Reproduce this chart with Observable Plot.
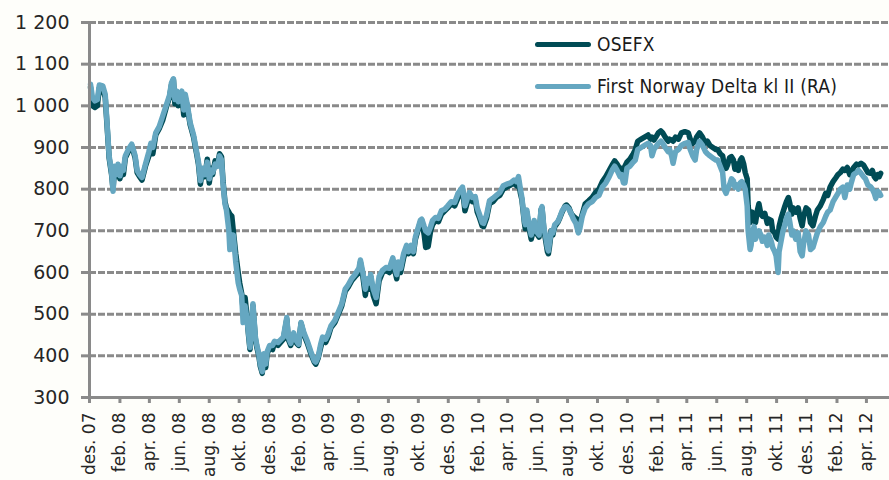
<!DOCTYPE html>
<html>
<head>
<meta charset="utf-8">
<script src="https://cdn.jsdelivr.net/npm/d3@7"></script>
<script src="https://cdn.jsdelivr.net/npm/@observablehq/plot@0.6"></script>
<style>
  html, body { margin: 0; padding: 0; background: #fefefa; }
  #wrap { position: relative; width: 889px; height: 480px; overflow: hidden; }
  #legend { position: absolute; left: 535px; top: 30px; font-family: "DejaVu Sans Condensed", "Liberation Sans Narrow", "DejaVu Sans", sans-serif; font-stretch: condensed; font-size: 19px; color: #1a1a1a; letter-spacing: 0.2px; }
  .item { display: flex; align-items: center; height: 28px; margin-bottom: 14px; }
  .sw { width: 56px; height: 5px; border-radius: 3px; margin-right: 6px; }
</style>
</head>
<body>
<div id="wrap">
  <div id="legend"></div>
</div>
<script>
const seriesNames = ["OSEFX", "First Norway Delta kl II (RA)"];
const seriesColors = ["#004b55", "#65a7c1"];

const dates = [
"2007-12-03","2007-12-07","2007-12-12","2007-12-17","2007-12-21","2007-12-28","2008-01-02","2008-01-07","2008-01-10","2008-01-15",
"2008-01-18","2008-01-21","2008-01-24","2008-01-28","2008-02-01","2008-02-05","2008-02-08","2008-02-12","2008-02-18","2008-02-25",
"2008-03-03","2008-03-07","2008-03-12","2008-03-17","2008-03-24","2008-03-31","2008-04-04","2008-04-08","2008-04-14","2008-04-21",
"2008-04-28","2008-05-05","2008-05-12","2008-05-16","2008-05-20","2008-05-23","2008-05-27","2008-05-30","2008-06-03","2008-06-06",
"2008-06-10","2008-06-13","2008-06-17","2008-06-23","2008-06-30","2008-07-07","2008-07-10","2008-07-14","2008-07-18","2008-07-23",
"2008-07-28","2008-08-01","2008-08-05","2008-08-08","2008-08-13","2008-08-18","2008-08-22","2008-08-26","2008-08-29","2008-09-02",
"2008-09-05","2008-09-10","2008-09-12","2008-09-16","2008-09-19","2008-09-24","2008-09-29","2008-10-02","2008-10-06","2008-10-09",
"2008-10-13","2008-10-16","2008-10-20","2008-10-23","2008-10-27","2008-10-29","2008-11-03","2008-11-06","2008-11-10","2008-11-13",
"2008-11-17","2008-11-20","2008-11-24","2008-11-27","2008-12-02","2008-12-08","2008-12-12","2008-12-19","2008-12-30","2009-01-06",
"2009-01-09","2009-01-14","2009-01-20","2009-01-26","2009-01-30","2009-02-04","2009-02-10","2009-02-17","2009-02-24","2009-03-03",
"2009-03-06","2009-03-11","2009-03-16","2009-03-20","2009-03-26","2009-03-31","2009-04-06","2009-04-14","2009-04-21","2009-04-28",
"2009-05-05","2009-05-11","2009-05-18","2009-05-25","2009-06-02","2009-06-05","2009-06-10","2009-06-15","2009-06-19","2009-06-23",
"2009-06-26","2009-07-01","2009-07-07","2009-07-13","2009-07-20","2009-07-27","2009-08-03","2009-08-10","2009-08-14","2009-08-18",
"2009-08-21","2009-08-26","2009-09-01","2009-09-07","2009-09-11","2009-09-16","2009-09-21","2009-09-25","2009-09-30","2009-10-05",
"2009-10-08","2009-10-13","2009-10-16","2009-10-21","2009-10-26","2009-10-30","2009-11-05","2009-11-11","2009-11-17","2009-11-24",
"2009-11-30","2009-12-07","2009-12-14","2009-12-21","2009-12-30","2010-01-04","2010-01-08","2010-01-13","2010-01-19","2010-01-25",
"2010-01-29","2010-02-03","2010-02-08","2010-02-11","2010-02-17","2010-02-23","2010-03-02","2010-03-09","2010-03-16","2010-03-23",
"2010-03-30","2010-04-07","2010-04-14","2010-04-19","2010-04-23","2010-04-27","2010-04-30","2010-05-05","2010-05-07","2010-05-10",
"2010-05-14","2010-05-19","2010-05-21","2010-05-25","2010-05-28","2010-06-01","2010-06-04","2010-06-08","2010-06-10","2010-06-14",
"2010-06-17","2010-06-21","2010-06-23","2010-06-25","2010-06-29","2010-07-02","2010-07-06","2010-07-12","2010-07-16","2010-07-21",
"2010-07-27","2010-07-30","2010-08-04","2010-08-09","2010-08-13","2010-08-18","2010-08-23","2010-08-26","2010-08-31","2010-09-06",
"2010-09-13","2010-09-20","2010-09-27","2010-10-04","2010-10-11","2010-10-18","2010-10-25","2010-11-01","2010-11-05","2010-11-10",
"2010-11-16","2010-11-19","2010-11-23","2010-11-26","2010-11-30","2010-12-06","2010-12-13","2010-12-17","2010-12-22","2010-12-29",
"2011-01-05","2011-01-12","2011-01-17","2011-01-20","2011-01-24","2011-01-28","2011-02-02","2011-02-07","2011-02-11","2011-02-16",
"2011-02-22","2011-02-25","2011-03-01","2011-03-04","2011-03-09","2011-03-15","2011-03-21","2011-03-28","2011-04-04","2011-04-08",
"2011-04-13","2011-04-18","2011-04-21","2011-04-27","2011-05-03","2011-05-09","2011-05-13","2011-05-18","2011-05-24","2011-05-30",
"2011-06-03","2011-06-08","2011-06-13","2011-06-16","2011-06-20","2011-06-23","2011-06-27","2011-07-01","2011-07-05","2011-07-08",
"2011-07-12","2011-07-15","2011-07-19","2011-07-22","2011-07-26","2011-07-29","2011-08-02","2011-08-04","2011-08-08","2011-08-10",
"2011-08-12","2011-08-16","2011-08-19","2011-08-23","2011-08-26","2011-08-30","2011-09-02","2011-09-07","2011-09-12","2011-09-15",
"2011-09-20","2011-09-23","2011-09-27","2011-09-30","2011-10-04","2011-10-06","2011-10-10","2011-10-14","2011-10-18","2011-10-21",
"2011-10-25","2011-10-28","2011-11-01","2011-11-04","2011-11-09","2011-11-14","2011-11-18","2011-11-22","2011-11-25","2011-11-30",
"2011-12-05","2011-12-09","2011-12-14","2011-12-19","2011-12-23","2011-12-29","2012-01-04","2012-01-09","2012-01-13","2012-01-18",
"2012-01-24","2012-01-30","2012-02-03","2012-02-08","2012-02-13","2012-02-17","2012-02-22","2012-02-27","2012-03-01","2012-03-06",
"2012-03-12","2012-03-16","2012-03-21","2012-03-26","2012-03-30","2012-04-04","2012-04-10","2012-04-13","2012-04-17","2012-04-20",
"2012-04-24","2012-04-27","2012-04-30"
];

const osefx = [
1045,1000,996,1000,1043,1040,1020,930,875,835,
800,850,830,855,825,850,835,875,890,905,
875,840,830,822,855,880,905,885,930,945,
965,995,1020,1050,1063,1005,1030,1000,1025,1030,
978,1020,1000,955,925,880,860,812,845,830,
872,815,850,835,868,860,885,878,820,770,
755,745,740,735,700,645,600,575,550,510,
540,505,450,415,480,520,440,420,400,375,
358,400,372,405,420,415,432,425,440,488,
440,425,450,430,425,478,450,430,405,385,
380,395,420,438,432,445,468,480,500,520,
555,565,580,590,600,625,590,545,575,560,
590,545,525,580,600,605,600,625,605,585,
620,600,635,660,645,660,645,680,700,720,
725,690,660,662,700,715,725,722,740,748,
755,765,760,780,800,748,765,785,770,775,
745,730,712,710,730,765,770,780,785,800,
805,810,815,808,820,790,775,720,705,745,
710,680,690,720,705,690,685,750,755,700,
680,650,645,660,700,690,710,720,730,745,
760,762,755,740,735,730,725,720,740,765,
772,780,792,800,818,830,845,860,868,860,
848,850,845,855,865,872,885,895,915,920,
925,930,920,925,918,925,935,940,935,925,
915,920,918,915,925,920,935,938,935,920,
910,915,925,935,925,910,915,905,900,895,
895,885,880,860,850,858,875,878,870,848,
860,845,870,875,860,840,825,760,720,735,
745,740,720,750,765,740,735,742,718,728,
725,700,695,685,680,710,730,745,760,770,
780,765,740,755,745,755,730,712,735,755,
750,720,712,735,750,760,775,790,785,805,
818,828,835,840,848,845,852,835,840,852,
860,858,862,858,850,840,838,845,830,825,
835,830,838
];

const fnd = [
1052,1020,1012,1015,1050,1048,1028,935,880,840,
795,855,835,860,832,855,845,880,895,908,
880,845,835,828,860,890,910,900,935,950,
975,1000,1025,1055,1065,1015,1035,1010,1030,1035,
990,1028,1005,960,930,885,865,820,850,835,
865,825,845,840,860,855,880,870,815,765,
750,700,655,690,690,625,575,560,545,480,
520,495,455,420,490,525,445,425,405,380,
362,405,380,410,425,425,435,432,445,492,
445,430,455,435,428,480,455,435,410,388,
385,398,428,445,440,452,472,485,505,525,
560,570,585,595,610,630,600,560,585,575,
595,560,540,590,605,612,610,635,612,595,
625,610,645,665,650,665,650,685,705,725,
728,710,700,695,710,725,732,730,748,752,
760,770,768,790,805,760,775,792,780,782,
755,738,720,718,738,772,778,785,792,808,
812,815,822,818,830,800,780,725,715,750,
718,690,700,725,700,695,690,752,758,705,
690,660,652,670,700,695,715,722,732,748,
758,758,752,740,728,718,695,705,735,755,
765,770,780,785,805,815,830,848,855,845,
830,835,815,815,850,855,865,870,895,900,
905,910,905,880,895,902,910,915,910,900,
890,895,880,862,890,895,905,910,912,895,
880,870,895,915,905,890,885,880,875,870,
870,855,840,800,790,800,810,825,820,805,
810,800,815,818,810,800,760,700,655,665,
690,710,680,695,700,690,675,685,665,690,
675,660,650,640,600,650,675,700,715,730,
740,720,690,700,680,695,650,640,670,700,
690,655,660,680,695,710,720,735,745,750,
770,782,790,800,805,780,810,800,815,835,
840,845,838,830,825,810,805,800,790,778,
795,792,785
];

const xTickDates = [
"2007-12-01","2008-02-01","2008-04-01","2008-06-01","2008-08-01","2008-10-01","2008-12-01",
"2009-02-01","2009-04-01","2009-06-01","2009-08-01","2009-10-01","2009-12-01",
"2010-02-01","2010-04-01","2010-06-01","2010-08-01","2010-10-01","2010-12-01",
"2011-02-01","2011-04-01","2011-06-01","2011-08-01","2011-10-01","2011-12-01",
"2012-02-01","2012-04-01"
];
const xTickLabels = [
"des. 07","feb. 08","apr. 08","jun. 08","aug. 08","okt. 08","des. 08",
"feb. 09","apr. 09","jun. 09","aug. 09","okt. 09","des. 09",
"feb. 10","apr. 10","jun. 10","aug. 10","okt. 10","des. 10",
"feb. 11","apr. 11","jun. 11","aug. 11","okt. 11","des. 11",
"feb. 12","apr. 12"
];
const yTicks = [300,400,500,600,700,800,900,1000,1100,1200];
const yTickLabels = ["300","400","500","600","700","800","900","1 000","1 100","1 200"];

const parse = d3.utcParse("%Y-%m-%d");
const table = dates.map((d, i) => ({date: parse(d), osefx: osefx[i], fnd: fnd[i]}));
const xTicks = xTickDates.map(parse);
const xLabelMap = new Map(xTicks.map((d, i) => [+d, xTickLabels[i]]));
const yLabelMap = new Map(yTicks.map((v, i) => [v, yTickLabels[i]]));
const xDomain = [parse("2007-12-01"), parse("2012-05-18")];

const axisGray = "#8a8a8a";

const chart = Plot.plot({
  width: 889,
  height: 480,
  marginLeft: 89,
  marginRight: 0,
  marginTop: 22,
  marginBottom: 83,
  style: {fontFamily: "'DejaVu Sans', sans-serif", fontSize: "19px", color: "#262626", background: "transparent", overflow: "visible"},
  x: {type: "utc", domain: xDomain},
  y: {domain: [300, 1200]},
  marks: [
    Plot.frame({fill: "white", stroke: null}),
    Plot.ruleY(yTicks.filter(v => v > 300), {stroke: axisGray, strokeWidth: 3, strokeDasharray: "7,2"}),
    Plot.line(table, {x: "date", y: "osefx", stroke: seriesColors[0], strokeWidth: 5.5, strokeLinejoin: "round", strokeLinecap: "round"}),
    Plot.line(table, {x: "date", y: "fnd", stroke: seriesColors[1], strokeWidth: 5.5, strokeLinejoin: "round", strokeLinecap: "round"}),
    Plot.ruleX([xDomain[0]], {stroke: axisGray, strokeWidth: 3}),
    Plot.ruleY([300], {stroke: axisGray, strokeWidth: 3}),
    Plot.axisX({ticks: xTicks, tickFormat: d => xLabelMap.get(+d), tickRotate: -90, tickSize: 6, tickPadding: 9, stroke: axisGray, strokeWidth: 3, fill: "#262626", fontSize: 17, label: null}),
    Plot.axisY({ticks: yTicks, tickFormat: v => yLabelMap.get(v), tickSize: 8, tickPadding: 12, stroke: axisGray, strokeWidth: 3, fill: "#262626", label: null})
  ]
});

document.getElementById("wrap").insertBefore(chart, document.getElementById("legend"));

const legend = document.getElementById("legend");
seriesNames.forEach((name, i) => {
  const item = document.createElement("div");
  item.className = "item";
  const sw = document.createElement("div");
  sw.className = "sw";
  sw.style.background = seriesColors[i];
  const label = document.createElement("span");
  label.textContent = name;
  item.appendChild(sw);
  item.appendChild(label);
  legend.appendChild(item);
});
</script>
</body>
</html>
